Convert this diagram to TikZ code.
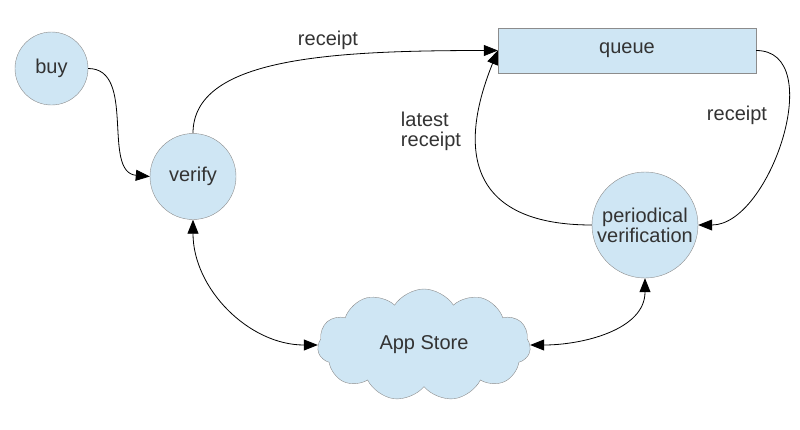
\documentclass[tikz,border=0pt]{standalone}
\usepackage{fontspec}
\setmainfont{Liberation Sans}
\usetikzlibrary{arrows.meta,shapes.symbols}
\definecolor{bubble}{HTML}{CFE6F4}
\definecolor{rim}{HTML}{8C8C8C}
\definecolor{ink}{HTML}{333333}
\tikzset{
  state/.style={circle,draw=rim,fill=bubble,text=ink,inner sep=0pt,align=center},
  link/.style={-{Triangle[length=14pt,width=11pt]},black,line width=0.8pt},
  twoway/.style={{Triangle[length=14pt,width=11pt]}-{Triangle[length=14pt,width=11pt]},black,line width=0.8pt},
  lbl/.style={text=ink,align=left}
}

\begin{document}
\begin{tikzpicture}[x=1pt,y=-1pt,font=\fontsize{20}{23}\selectfont]
\useasboundingbox (0,0) rectangle (800,429);
\node[state,minimum size=73pt] (buy) at (51.5,68.5) {buy};
\node[state,minimum size=86pt] (verify) at (193,176.5) {verify};
\node[state,minimum size=106pt] (periodic) at (645,225) {periodical\\[-3pt]verification};
\node[draw=rim,fill=bubble,text=ink,minimum width=258pt,minimum height=45pt] (queue) at (627,50.5) {queue};
\node[cloud,cloud puffs=11,cloud puff arc=115,cloud ignores aspect,draw=rim,fill=bubble,text=ink,
  minimum width=213pt,minimum height=112pt] (store) at (424,345) {App Store};
% labels
\node[lbl] (rcpt) at (328,40) {receipt};
\node[lbl] (rcpt2) at (737,115) {receipt};
\node[lbl] (latest) at (431,131) {latest\\[-3pt]receipt};
% connectors
\draw[link] (buy.east) to[out=0,in=175] (verify.west);
\draw[link] (verify.north) .. controls +(0,-75) and +(-170,0) .. (queue.west);
\draw[link] (queue.east) to[out=0,in=0] (periodic.east);
\draw[link] (periodic.west) to[out=180,in=-112,looseness=1.5] (queue.west);
\draw[twoway] (verify.south) to[out=-90,in=180] (store.west);
\draw[twoway] (periodic.south) to[out=-90,in=0] (store.east);
\end{tikzpicture}
\end{document}
